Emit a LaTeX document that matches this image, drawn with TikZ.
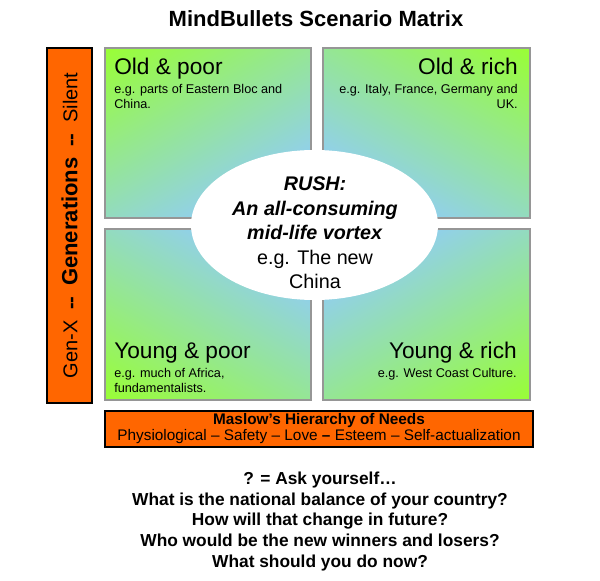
\documentclass[tikz,border=0pt]{standalone}
\usepackage{fontspec}
\setmainfont{Liberation Sans}
\usetikzlibrary{positioning}

\definecolor{limegreen}{RGB}{153,255,51}
\definecolor{skyblue}{RGB}{145,207,238}
\definecolor{bulletorange}{RGB}{255,102,0}
\definecolor{edgegray}{RGB}{150,150,150}
% green at the top end, blue for the lower part
\pgfdeclareverticalshading{quadfade}{100bp}{color(0bp)=(skyblue); color(30bp)=(skyblue); color(85bp)=(limegreen); color(100bp)=(limegreen)}

\begin{document}
\begin{tikzpicture}[
  x=0.75pt,y=-0.75pt,
  quad/.style={draw=edgegray,line width=0.8pt,shade,shading=quadfade},
  bar/.style={draw=black,fill=bulletorange,line width=1pt,inner sep=0pt},
  head/.style={font=\fontsize{17}{19}\selectfont,inner sep=0pt},
  eg/.style={font=\fontsize{9.5}{11.2}\selectfont,inner sep=0pt},
  ask/.style={font=\fontsize{13}{15.6}\selectfont\bfseries,align=center,inner sep=0pt}
]
\useasboundingbox (0,0) rectangle (600,581);

\node[font=\fontsize{16.5}{19}\selectfont\bfseries,anchor=base] (title) at (316,27)
  {MindBullets Scenario Matrix};

% generations
\node[bar,rotate=90,minimum width=266.25pt,minimum height=33.75pt,
  font=\fontsize{15}{18}\selectfont] (gens) at (69.5,225.5)
  {Gen-X\hspace{8pt}\textbf{-{}-}\hspace{8pt}{\fontsize{16.5}{18}\selectfont\bfseries Generations}\hspace{8pt}\textbf{-{}-}\hspace{8pt}Silent};

% quadrants, green in the outer corner
\draw[quad,shading angle=30] (105,48) rectangle (311,218);
\draw[quad,shading angle=-30] (323,48) rectangle (530,218);
\draw[quad,shading angle=150] (105,229) rectangle (311,400);
\draw[quad,shading angle=210] (323,229) rectangle (530,400);

\node[head,anchor=base west] (oldpoor) at (114,75) {Old \& poor};
\node[eg,align=left,anchor=north west] (oldpoortxt) at (114,84)
  {e.g. parts of Eastern Bloc and\\China.};
\node[head,anchor=base east] (oldrich) at (518,75) {Old \& rich};
\node[eg,align=right,anchor=north east] (oldrichtxt) at (518,84)
  {e.g. Italy, France, Germany and\\UK.};
\node[head,anchor=base west] (youngpoor) at (114,358) {Young \& poor};
\node[eg,align=left,anchor=north west] (youngpoortxt) at (114,368)
  {e.g. much of Africa,\\fundamentalists.};
\node[head,anchor=base east] (youngrich) at (517,358) {Young \& rich};
\node[eg,anchor=base east] (youngrichtxt) at (517,377) {e.g. West Coast Culture.};

% the vortex
\fill[white] (314.5,225) ellipse [x radius=123.5,y radius=75];
\node[align=center,inner sep=0pt,font=\fontsize{14.8}{18.4}\selectfont] (rush) at (315,233)
  {\textbf{\textit{RUSH:}}\\\textbf{\textit{An all-consuming}}\\\textbf{\textit{mid-life vortex}}\\e.g. The new\\China};

% needs
\node[bar,minimum width=321pt,minimum height=27pt,align=center] (maslow) at (319,429)
  {{\fontsize{11.5}{13.5}\selectfont\bfseries Maslow’s Hierarchy of Needs}\\
   {\fontsize{11.5}{13.5}\selectfont Physiological – Safety – Love \textbf{–} Esteem – Self-actualization}};

\node[ask] (questions) at (320,521.5)
  {? = Ask yourself…\\What is the national balance of your country?\\How will that change in future?\\Who would be the new winners and losers?\\What should you do now?};
\end{tikzpicture}
\end{document}
